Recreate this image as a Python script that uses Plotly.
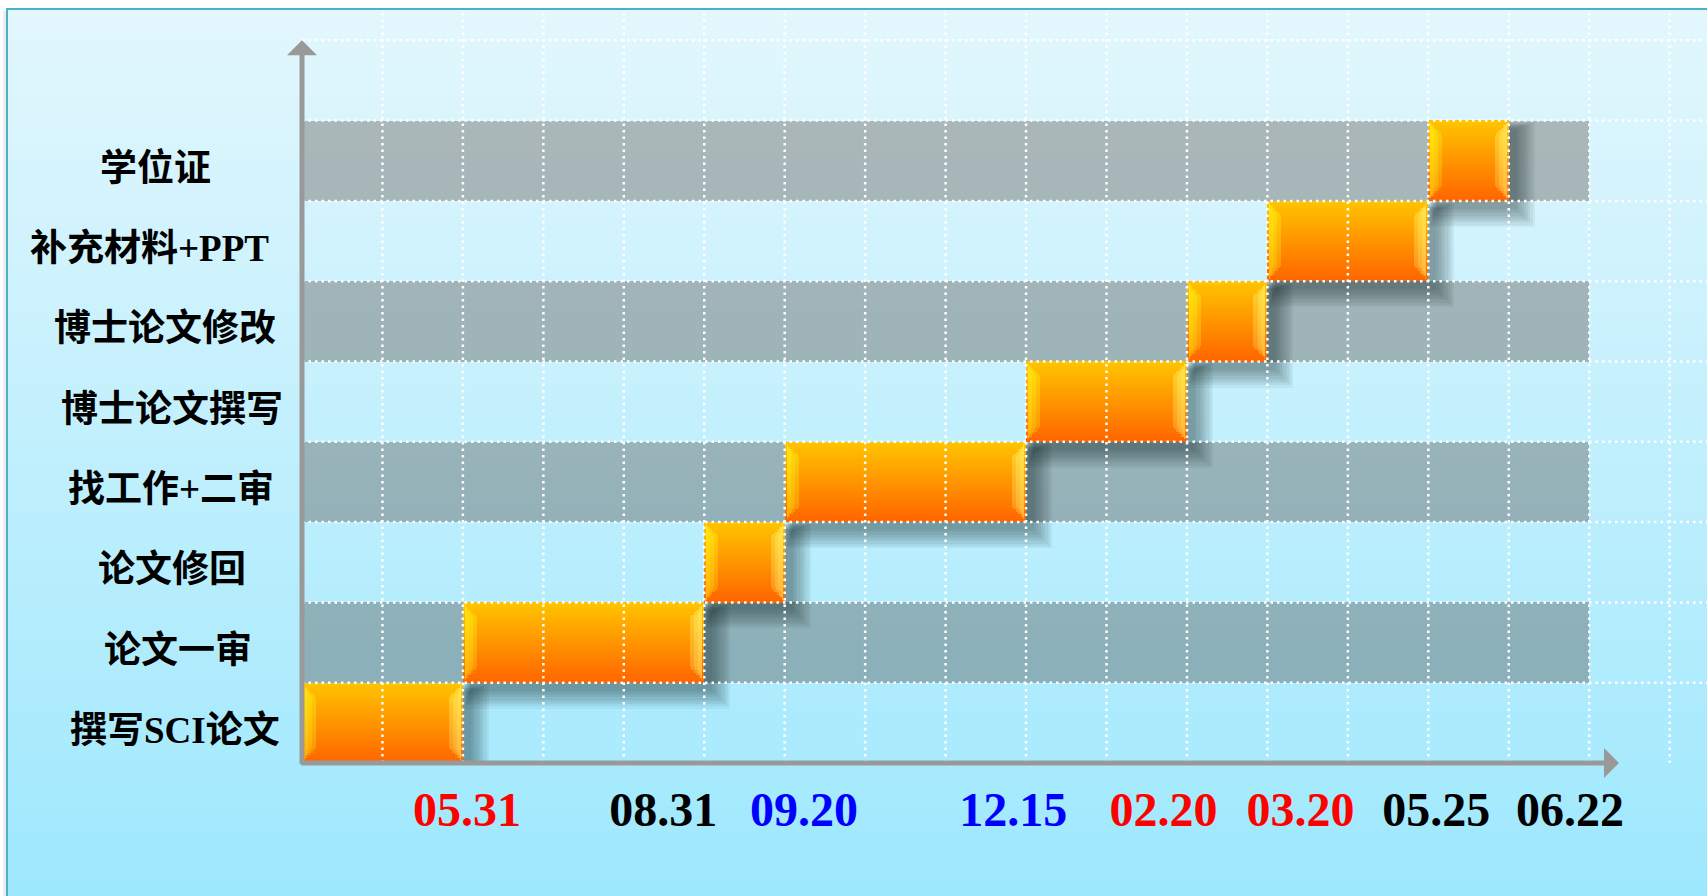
import re
import plotly.graph_objects as go

# ---------------- data ----------------
TASKS = ['撰写SCI论文', '论文一审', '论文修回', '找工作+二审',
         '博士论文撰写', '博士论文修改', '补充材料+PPT', '学位证']
START = [0, 2, 5, 6, 9, 11, 12, 14]
END = [2, 5, 6, 9, 11, 12, 14, 15]
BAND_TASKS = ['论文一审', '找工作+二审', '博士论文修改', '学位证']
TIMELINE_END = 16
DATE_POS = [2.05, 4.49, 6.24, 8.84, 10.71, 12.41, 14.10, 15.76]
DATE_TEXT = ['05.31', '08.31', '09.20', '12.15', '02.20', '03.20', '05.25', '06.22']

# ---------------- style ----------------
DATE_COLOR = ['#FF0000', '#000000', '#0000FF', '#0000FF',
              '#FF0000', '#FF0000', '#000000', '#000000']
LABEL_CX = [175, 178, 172, 171, 172, 165, 149, 155]   # label centres (px)

W, H = 1707, 896
PL, PT, PB = 302, 9, 763          # plot left / top / bottom in px
UX, UY = 80.45, 80.3               # px per unit
PW, PH = W - PL, PB - PT


def pxx(px):
    return (px - PL) / PW


def pxy(py):
    return (PB - py) / PH


def lerp(c1, c2, t):
    a = [int(c1[i:i + 2], 16) for i in (1, 3, 5)]
    b = [int(c2[i:i + 2], 16) for i in (1, 3, 5)]
    return [a[i] + (b[i] - a[i]) * t for i in range(3)]


def rgb(c, alpha=None):
    if alpha is None:
        return 'rgb(%d,%d,%d)' % tuple(round(v) for v in c)
    return 'rgba(%d,%d,%d,%.3f)' % (*[round(v) for v in c], alpha)


ROW = list(range(len(TASKS)))
DUR = [e - s for s, e in zip(START, END)]

fig = go.Figure()

# gray bands
fig.add_trace(go.Bar(
    orientation='h', y=[TASKS.index(t) for t in BAND_TASKS],
    x=[TIMELINE_END] * len(BAND_TASKS), base=0, width=1,
    marker=dict(color='rgba(45,20,10,0.28)', line=dict(width=0)),
    hoverinfo='skip', showlegend=False))

# soft drop shadows (offset to lower right, blurred by stacking)
DX, DY = 0.10, 0.10
for k in range(9):
    e = 0.028 * k
    left = [s + DX - 0.35 * e for s in START]
    right = [en + DX + e for en in END]
    top = 0.5 - DY + 0.35 * e
    bottom = -0.5 - DY - e
    fig.add_trace(go.Bar(
        orientation='h', y=ROW, x=[r - l for l, r in zip(left, right)],
        base=left, width=top - bottom, offset=bottom,
        marker=dict(color='rgba(20,35,45,0.055)', line=dict(width=0)),
        hoverinfo='skip', showlegend=False))

# orange bars with vertical gradient and bevel highlights
N = 32
TOP, BOT = '#FFC400', '#FF6500'
D = 0.15
for j in range(N):
    t = (j + 0.5) / N
    main = lerp(TOP, BOT, t)
    off = 0.5 - (j + 1) / N
    fig.add_trace(go.Bar(
        orientation='h', y=ROW, x=DUR, base=START,
        width=1 / N + 0.004, offset=off - 0.002,
        marker=dict(color=rgb(main), line=dict(width=0)),
        hoverinfo='skip', showlegend=False))
    dmin = min(j + 0.5, N - j - 0.5) / N
    w = max(0.0, min(D, dmin - 0.035))
    if w <= 0.004:
        continue
    aL = 0.9 - 0.4 * t
    aR = 0.85 - 0.3 * t
    for frac, alpha_scale in ((1.0, 0.45), (0.65, 0.4), (0.35, 0.35)):
        ww = w * frac
        bases = [s + 0.025 for s in START] + [e - 0.025 - ww for e in END]
        cols = ([rgb((255, 242, 20), aL * alpha_scale)] * len(START)
                + [rgb((255, 245, 110), aR * alpha_scale)] * len(END))
        fig.add_trace(go.Bar(
            orientation='h', y=ROW + ROW, x=[ww] * (2 * len(START)), base=bases,
            width=1 / N + 0.004, offset=off - 0.002,
            marker=dict(color=cols, line=dict(width=0)),
            hoverinfo='skip', showlegend=False))

shapes = []
# background gradient
NS = 80
y_top, y_bot = pxy(PT), pxy(H)
x_left = pxx(7)
for i in range(NS):
    c = lerp('#E3F7FD', '#9EE8FD', (i + 0.5) / NS)
    y1 = y_top + (y_bot - y_top) * i / NS
    y0 = y_top + (y_bot - y_top) * (i + 1) / NS
    shapes.append(dict(type='rect', xref='paper', yref='paper', x0=x_left, x1=1.01,
                       y0=y0 - 0.001, y1=y1 + 0.001, fillcolor=rgb(c),
                       line=dict(width=0), layer='below'))
# frame border + faint outer shadow
shapes.append(dict(type='line', xref='paper', yref='paper', x0=pxx(4.5), x1=pxx(4.5),
                   y0=y_bot, y1=pxy(PT + 2), line=dict(color='rgba(0,0,0,0.07)', width=3),
                   layer='below'))
shapes.append(dict(type='rect', xref='paper', yref='paper', x0=x_left, x1=1.01,
                   y0=y_bot - 0.01, y1=y_top, line=dict(color='#4BB1CA', width=2),
                   fillcolor='rgba(0,0,0,0)', layer='below'))
# dotted white grid (above bars)
DOT = '2.5px,4px'
for k in range(1, 18):
    shapes.append(dict(type='line', xref='x', yref='paper', x0=k, x1=k, y0=0, y1=1,
                       line=dict(color='white', width=2.5, dash=DOT), layer='above'))
for k in range(1, 10):
    shapes.append(dict(type='line', xref='paper', yref='y', x0=0, x1=1,
                       y0=k - 0.5, y1=k - 0.5,
                       line=dict(color='white', width=2.5, dash=DOT), layer='above'))

annotations = []
# axes arrows
x_tip = (1619 - PL) / UX
annotations.append(dict(x=x_tip, y=-0.5, ax=-0.03, ay=-0.5, xref='x', yref='y',
                        axref='x', ayref='y', text='', showarrow=True, arrowhead=1,
                        arrowsize=1, arrowwidth=5, arrowcolor='#999999'))
annotations.append(dict(x=0, y=8.5, ax=0, ay=-0.53, xref='x', yref='y',
                        axref='x', ayref='y', text='', showarrow=True, arrowhead=1,
                        arrowsize=1, arrowwidth=5, arrowcolor='#999999'))


def fmt_label(s):
    return '<b>' + re.sub(r'([A-Za-z+]+)',
                          r'<span style="font-family:Liberation Serif">\1</span>', s) + '</b>'


for i, name in enumerate(TASKS):
    annotations.append(dict(x=pxx(LABEL_CX[i]), y=i, xref='paper', yref='y',
                            xanchor='center', yanchor='middle', yshift=-4,
                            text=fmt_label(name), showarrow=False,
                            font=dict(family='Noto Sans CJK SC', size=37, color='black')))

fig.update_layout(
    width=W, height=H, autosize=False,
    margin=dict(l=PL, r=0, t=PT, b=H - PB, pad=0),
    paper_bgcolor='white', plot_bgcolor='rgba(0,0,0,0)',
    barmode='overlay', bargap=0, showlegend=False,
    shapes=shapes, annotations=annotations,
    xaxis=dict(range=[0, PW / UX], showgrid=False, zeroline=False, showline=False,
               ticks='', tickvals=DATE_POS,
               ticktext=['<b><span style="color:%s">%s</span></b>' % (c, t)
                         for c, t in zip(DATE_COLOR, DATE_TEXT)],
               tickfont=dict(family='Liberation Serif', size=48, color='black'),
               ticklabelstandoff=14, fixedrange=True),
    yaxis=dict(range=[-0.5, -0.5 + PH / UY], showgrid=False, zeroline=False,
               showline=False, showticklabels=False, ticks='', fixedrange=True),
)

fig.write_html('out.html', config=dict(displayModeBar=False))
